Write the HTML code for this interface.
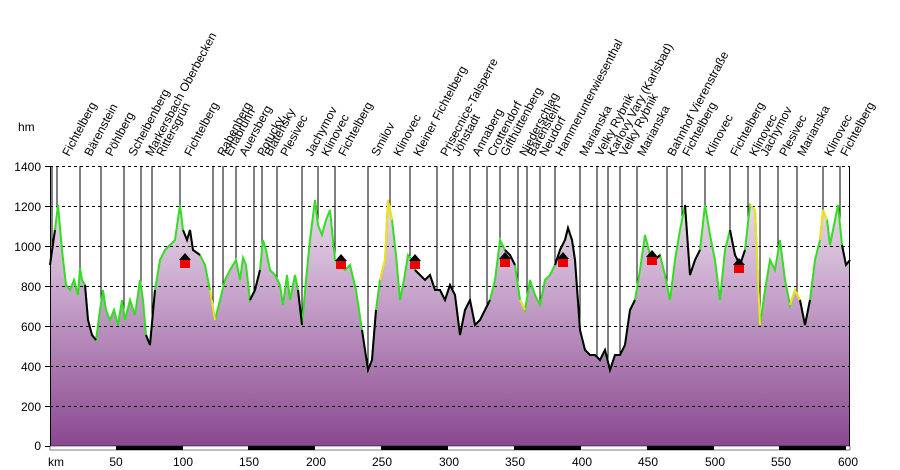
<!DOCTYPE html>
<html><head><meta charset="utf-8"><style>
body{margin:0;background:#fff;}
svg{display:block;font-family:"Liberation Sans",sans-serif;}
</style></head><body>
<svg width="900" height="470" viewBox="0 0 900 470">
<defs>
<linearGradient id="g" gradientUnits="userSpaceOnUse" x1="0" y1="166" x2="0" y2="446">
<stop offset="0" stop-color="#f6f0f6"/><stop offset="0.45" stop-color="#c8a6cc"/><stop offset="1" stop-color="#8a4890"/>
</linearGradient>
</defs>
<g stroke="#000" stroke-width="1">
<path d="M52 166V446M57 166V446M80 166V446M101 166V446M124 166V446M141 166V446M152 166V446M180 166V446M213 166V446M223 166V446M236 166V446M254 166V446M262 166V446M277 166V446M302 166V446M318 166V446M335 166V446M368 166V446M390 166V446M410 166V446M437 166V446M453 166V446M470 166V446M487 166V446M500 166V446M518 166V446M527 166V446M540 166V446M555 166V446M580 166V446M597 166V446M608 166V446M620 166V446M637 166V446M667 166V446M682 166V446M705 166V446M730 166V446M748 166V446M760 166V446M778 166V446M797 166V446M823 166V446M840 166V446"/>
</g>
<path fill="url(#g)" d="M50 446 L50 265 55 230 58 205 62 250 66 285 70 290 74 280 78 295 80 268 82 280 85 285 88 320 92 335 96 340 100 310 103 290 106 310 110 320 114 310 118 325 122 300 125 320 130 300 135 315 140 280 143 300 146 335 150 345 155 290 160 260 165 250 170 245 175 240 180 205 183 230 187 240 190 230 193 250 200 255 205 265 210 290 215 320 220 300 225 280 230 270 236 260 240 280 243 258 246 265 250 300 255 290 260 270 263 240 266 250 270 270 275 275 280 285 283 305 287 275 290 300 295 275 298 290 302 325 306 280 310 240 315 200 318 225 322 235 326 220 330 210 335 260 340 265 345 270 350 265 356 290 362 330 368 370 372 360 376 310 380 280 385 260 388 200 392 220 396 255 400 300 404 280 408 255 412 260 415 270 420 275 425 280 430 275 435 290 440 290 445 300 450 285 455 295 460 335 465 310 470 300 475 325 480 320 485 310 490 300 495 280 500 240 505 250 510 255 515 265 520 300 525 310 530 280 535 295 540 305 545 280 550 275 555 265 560 250 565 240 568 228 572 240 575 260 580 330 585 350 590 355 595 355 600 360 605 350 610 370 615 355 620 355 625 345 630 310 635 300 640 270 645 235 650 255 655 260 660 255 665 275 670 300 675 260 680 230 685 205 690 275 695 260 700 250 705 205 710 235 715 260 720 300 725 250 730 230 735 255 740 265 745 250 750 205 755 210 760 325 765 290 770 260 775 270 780 240 785 280 790 305 795 290 800 300 805 325 810 300 815 260 820 240 823 210 827 220 830 245 835 220 838 205 842 245 846 265 850 260 L850 446Z"/>
<g stroke="#000" stroke-dasharray="3,3" stroke-width="1">
<path d="M50 166.5H850M50 206.5H850M50 246.5H850M50 286.5H850M50 326.5H850M50 366.5H850M50 406.5H850"/>
</g>
<path fill="none" stroke="#33dd22" stroke-width="2" d="M50 265 L55 230 58 205 62 250 66 285 70 290 74 280 78 295 80 268 82 280 85 285 88 320 92 335 96 340 100 310 103 290 106 310 110 320 114 310 118 325 122 300 125 320 130 300 135 315 140 280 143 300 146 335 150 345 155 290 160 260 165 250 170 245 175 240 180 205 183 230 187 240 190 230 193 250 200 255 205 265 210 290 215 320 220 300 225 280 230 270 236 260 240 280 243 258 246 265 250 300 255 290 260 270 263 240 266 250 270 270 275 275 280 285 283 305 287 275 290 300 295 275 298 290 302 325 306 280 310 240 315 200 318 225 322 235 326 220 330 210 335 260 340 265 345 270 350 265 356 290 362 330 368 370 372 360 376 310 380 280 385 260 388 200 392 220 396 255 400 300 404 280 408 255 412 260 415 270 420 275 425 280 430 275 435 290 440 290 445 300 450 285 455 295 460 335 465 310 470 300 475 325 480 320 485 310 490 300 495 280 500 240 505 250 510 255 515 265 520 300 525 310 530 280 535 295 540 305 545 280 550 275 555 265 560 250 565 240 568 228 572 240 575 260 580 330 585 350 590 355 595 355 600 360 605 350 610 370 615 355 620 355 625 345 630 310 635 300 640 270 645 235 650 255 655 260 660 255 665 275 670 300 675 260 680 230 685 205 690 275 695 260 700 250 705 205 710 235 715 260 720 300 725 250 730 230 735 255 740 265 745 250 750 205 755 210 760 325 765 290 770 260 775 270 780 240 785 280 790 305 795 290 800 300 805 325 810 300 815 260 820 240 823 210 827 220 830 245 835 220 838 205 842 245 846 265 850 260"/>
<g fill="none" stroke="#000" stroke-width="2">
<path d="M50 265 L55 230"/>
<path d="M85 285 88 320 92 335 96 340"/>
<path d="M146 335 150 345 155 290"/>
<path d="M183 230 187 240 190 230 193 250 200 255"/>
<path d="M250 300 255 290 260 270"/>
<path d="M298 290 302 325"/>
<path d="M362 330 368 370 372 360 376 310"/>
<path d="M415 270 420 275 425 280 430 275 435 290 440 290 445 300 450 285 455 295 460 335 465 310 470 300 475 325 480 320 485 310 490 300"/>
<path d="M505 250 510 255 515 265"/>
<path d="M555 265 560 250 565 240 568 228 572 240 575 260 580 330 585 350 590 355 595 355 600 360 605 350 610 370 615 355 620 355 625 345 630 310 635 300"/>
<path d="M650 255 655 260 660 255"/>
<path d="M685 205 690 275 695 260 700 250"/>
<path d="M730 230 735 255 740 265 745 250"/>
<path d="M800 300 805 325 810 300"/>
<path d="M842 245 846 265 850 260"/>
</g>
<g fill="none" stroke="#f0e020" stroke-width="2">
<path d="M210 290 215 320"/>
<path d="M380 280 385 260 388 200 392 220"/>
<path d="M520 300 525 310"/>
<path d="M750 205 755 210 760 325"/>
<path d="M790 305 795 290 800 300"/>
<path d="M820 240 823 210 827 220"/>
</g>
<g>
<g transform="translate(185,261)"><rect x="-5" y="-2" width="10" height="9" fill="#e00"/><path d="M-6 -1 L0 -8 6 -1Z" fill="#000"/></g>
<g transform="translate(341,262)"><rect x="-5" y="-2" width="10" height="9" fill="#e00"/><path d="M-6 -1 L0 -8 6 -1Z" fill="#000"/></g>
<g transform="translate(415,262)"><rect x="-5" y="-2" width="10" height="9" fill="#e00"/><path d="M-6 -1 L0 -8 6 -1Z" fill="#000"/></g>
<g transform="translate(505,260)"><rect x="-5" y="-2" width="10" height="9" fill="#e00"/><path d="M-6 -1 L0 -8 6 -1Z" fill="#000"/></g>
<g transform="translate(563,260)"><rect x="-5" y="-2" width="10" height="9" fill="#e00"/><path d="M-6 -1 L0 -8 6 -1Z" fill="#000"/></g>
<g transform="translate(652,258)"><rect x="-5" y="-2" width="10" height="9" fill="#e00"/><path d="M-6 -1 L0 -8 6 -1Z" fill="#000"/></g>
<g transform="translate(739,266)"><rect x="-5" y="-2" width="10" height="9" fill="#e00"/><path d="M-6 -1 L0 -8 6 -1Z" fill="#000"/></g>
</g>
<path d="M50.5 166V447 M45 166.5H50M45 206.5H50M45 246.5H50M45 286.5H50M45 326.5H50M45 366.5H50M45 406.5H50M45 446.5H50" stroke="#000"/>
<path d="M849.5 166V447" stroke="#000"/>
<rect x="50" y="446" width="800" height="4" fill="#fff" stroke="#000" stroke-width="0.5"/>
<g fill="#000">
<rect x="116" y="446" width="67" height="4"/><rect x="248" y="446" width="67" height="4"/><rect x="381" y="446" width="67" height="4"/><rect x="514" y="446" width="67" height="4"/><rect x="647" y="446" width="67" height="4"/><rect x="779" y="446" width="67" height="4"/>
</g>
<g font-size="12" fill="#000">
<text x="41" y="171" text-anchor="end">1400</text>
<text x="41" y="211" text-anchor="end">1200</text>
<text x="41" y="251" text-anchor="end">1000</text>
<text x="41" y="291" text-anchor="end">800</text>
<text x="41" y="331" text-anchor="end">600</text>
<text x="41" y="371" text-anchor="end">400</text>
<text x="41" y="411" text-anchor="end">200</text>
<text x="41" y="450" text-anchor="end">0</text>
<text x="18" y="131">hm</text>
<text x="48" y="466">km</text>
<g text-anchor="middle">
<text x="116" y="466">50</text><text x="183" y="466">100</text><text x="249" y="466">150</text><text x="316" y="466">200</text><text x="382" y="466">250</text><text x="449" y="466">300</text><text x="515" y="466">350</text><text x="582" y="466">400</text><text x="648" y="466">450</text><text x="715" y="466">500</text><text x="781" y="466">550</text><text x="848" y="466">600</text>
</g>
</g>
<g font-size="12" fill="#000">
<text transform="translate(69,157) rotate(-62)">Fichtelberg</text>
<text transform="translate(91,157) rotate(-62)">Bärenstein</text>
<text transform="translate(112,157) rotate(-62)">Pöhlberg</text>
<text transform="translate(135,157) rotate(-62)">Scheibenberg</text>
<text transform="translate(152,157) rotate(-62)">Markersbach Oberbecken</text>
<text transform="translate(163,157) rotate(-62)">Rittersgrün</text>
<text transform="translate(191,157) rotate(-62)">Fichtelberg</text>
<text transform="translate(224,157) rotate(-62)">Rabenberg</text>
<text transform="translate(231,157) rotate(-62)">Erlabrunn</text>
<text transform="translate(246,157) rotate(-62)">Auersberg</text>
<text transform="translate(264,157) rotate(-62)">Potucky</text>
<text transform="translate(271,157) rotate(-62)">Blatensky</text>
<text transform="translate(287,157) rotate(-62)">Plesivec</text>
<text transform="translate(312,157) rotate(-62)">Jachymov</text>
<text transform="translate(328,157) rotate(-62)">Klinovec</text>
<text transform="translate(345,157) rotate(-62)">Fichtelberg</text>
<text transform="translate(378,157) rotate(-62)">Smilov</text>
<text transform="translate(400,157) rotate(-62)">Klinovec</text>
<text transform="translate(420,157) rotate(-62)">Kleiner Fichtelberg</text>
<text transform="translate(447,157) rotate(-62)">Prisecnice-Talsperre</text>
<text transform="translate(459,157) rotate(-62)">Jöhstadt</text>
<text transform="translate(479,157) rotate(-62)">Annaberg</text>
<text transform="translate(494,157) rotate(-62)">Crottendorf</text>
<text transform="translate(507,157) rotate(-62)">Gifthüttenberg</text>
<text transform="translate(526,157) rotate(-62)">Niederschlag</text>
<text transform="translate(534,157) rotate(-62)">Bärenstein</text>
<text transform="translate(546,157) rotate(-62)">Neudorf</text>
<text transform="translate(562,157) rotate(-62)">Hammerunterwiesenthal</text>
<text transform="translate(586,157) rotate(-62)">Marianska</text>
<text transform="translate(602,157) rotate(-62)">Velky Rybnik</text>
<text transform="translate(614,157) rotate(-62)">Karlovy Vary (Karlsbad)</text>
<text transform="translate(626,157) rotate(-62)">Velky Rybnik</text>
<text transform="translate(644,157) rotate(-62)">Marianska</text>
<text transform="translate(674,157) rotate(-62)">Bahnhof Vierenstraße</text>
<text transform="translate(689,157) rotate(-62)">Fichtelberg</text>
<text transform="translate(712,157) rotate(-62)">Klinovec</text>
<text transform="translate(737,157) rotate(-62)">Fichtelberg</text>
<text transform="translate(756,157) rotate(-62)">Klinovec</text>
<text transform="translate(767,157) rotate(-62)">Jachymov</text>
<text transform="translate(786,157) rotate(-62)">Plesivec</text>
<text transform="translate(804,157) rotate(-62)">Marianska</text>
<text transform="translate(831,157) rotate(-62)">Klinovec</text>
<text transform="translate(847,157) rotate(-62)">Fichtelberg</text>
</g>
</svg>
</body></html>
